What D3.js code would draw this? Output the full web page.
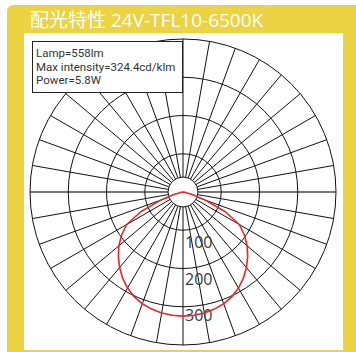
<!DOCTYPE html>
<html>
<head>
<meta charset="utf-8">
<script src="https://cdn.jsdelivr.net/npm/d3@7"></script>
<style>
  body { margin: 0; background: #fff; }
  svg { display: block; }
</style>
</head>
<body>
<script>
// Chart text
const title = "配光特性 24V-TFL10-6500K";
const infoLines = ["Lamp=558lm", "Max intensity=324.4cd/klm", "Power=5.8W"];

// Polar grid
const ringValues = [100, 200, 300, 400];
const ringLabels = [100, 200, 300];
const spokeAngles = d3.range(0, 360, 10);

// Luminous intensity (cd/klm), angle measured from nadir, mirrored both sides
const angles = [0, 5, 10, 15, 20, 25, 30, 35, 40, 45, 50, 55, 60, 65, 70, 75, 80, 85, 90, 120, 150, 180];
const intensity = [324.4, 323.5, 321, 317, 311, 302, 290, 275, 258, 239, 219, 196, 170, 122, 62, 25, 6, 0, 0, 0, 0, 0];

const W = 356, H = 352;
const cx = 183, cy = 192, R = 153, innerR = 15;

const svg = d3.select("body").append("svg")
    .attr("width", W)
    .attr("height", H);

// Yellow frame and white plot panel
svg.append("rect")
    .attr("x", 7).attr("y", 5)
    .attr("width", W).attr("height", H)
    .attr("rx", 6)
    .attr("fill", "#ebd343");
svg.append("rect")
    .attr("x", 24).attr("y", 33)
    .attr("width", 319).attr("height", 317)
    .attr("fill", "#fff");

svg.append("text")
    .attr("x", 30).attr("y", 27)
    .attr("fill", "#fff")
    .attr("font-family", "'Open Sans', 'Noto Sans CJK SC', sans-serif")
    .attr("font-size", 19)
    .text(title);

const r = d3.scaleLinear().domain([0, 400]).range([0, R]);

const g = svg.append("g").attr("transform", `translate(${cx},${cy})`);

// Spokes every 10 degrees (0 = down)
g.selectAll("line.spoke")
    .data(spokeAngles.filter(a => a % 180 !== 90))
    .enter().append("line")
    .attr("class", "spoke")
    .attr("x1", a => innerR * Math.sin(a * Math.PI / 180))
    .attr("y1", a => innerR * Math.cos(a * Math.PI / 180))
    .attr("x2", a => R * Math.sin(a * Math.PI / 180))
    .attr("y2", a => R * Math.cos(a * Math.PI / 180))
    .attr("stroke", "#111")
    .attr("stroke-width", 1);

// Horizontal axis in grey
g.append("line")
    .attr("x1", -R).attr("x2", R)
    .attr("y1", 0).attr("y2", 0)
    .attr("stroke", "#777")
    .attr("stroke-width", 2);

// Rings
g.selectAll("circle.ring")
    .data(ringValues)
    .enter().append("circle")
    .attr("class", "ring")
    .attr("r", d => r(d))
    .attr("fill", "none")
    .attr("stroke", "#111")
    .attr("stroke-width", 1);

g.append("circle")
    .attr("r", innerR)
    .attr("fill", "#fff")
    .attr("stroke", "#111")
    .attr("stroke-width", 1);

// Ring labels along nadir
g.selectAll("text.rlab")
    .data(ringLabels)
    .enter().append("text")
    .attr("class", "rlab")
    .attr("x", 2)
    .attr("y", d => r(d) + 20 - d / 100 * 2)
    .attr("fill", "#3a3a3a")
    .attr("font-family", "'Open Sans', sans-serif")
    .attr("font-size", 16)
    .text(d => d);

// Intensity curve: right half then left half (mirrored)
const pts = angles.map((a, i) => [a, intensity[i]])
    .concat(angles.slice().reverse().map((a, i) => [-a, intensity[angles.length - 1 - i]]));

const line = d3.lineRadial()
    .angle(d => Math.PI - d[0] * Math.PI / 180)
    .radius(d => r(d[1]))
    .curve(d3.curveLinearClosed);

g.append("path")
    .datum(pts)
    .attr("d", line)
    .attr("fill", "none")
    .attr("stroke", "#e8262a")
    .attr("stroke-width", 1.6)
    .attr("stroke-linejoin", "round");

// Info box
svg.append("rect")
    .attr("x", 32.5).attr("y", 41.5)
    .attr("width", 150).attr("height", 51)
    .attr("fill", "#fff")
    .attr("stroke", "#222")
    .attr("stroke-width", 1);

svg.selectAll("text.info")
    .data(infoLines)
    .enter().append("text")
    .attr("class", "info")
    .attr("x", 36)
    .attr("y", (d, i) => 57 + i * 13.5)
    .attr("fill", "#333")
    .attr("font-family", "Roboto, sans-serif")
    .attr("font-size", 11.5)
    .text(d => d);
</script>
</body>
</html>
